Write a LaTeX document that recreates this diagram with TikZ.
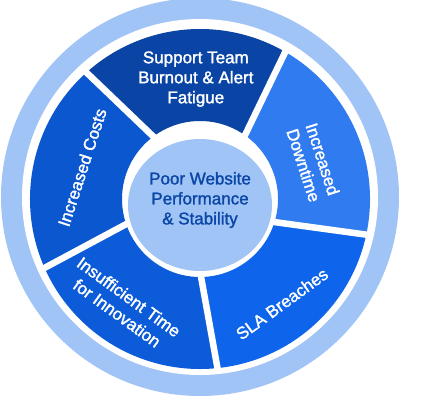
\documentclass[tikz,border=0pt]{standalone}
\usepackage{fontspec}
\setmainfont{Liberation Sans}
\newfontfamily\medfont{Liberation Sans}[FakeBold=1.6]
\definecolor{ringlight}{HTML}{A1C4F7}
\definecolor{segsupport}{HTML}{0A45A5}
\definecolor{segcosts}{HTML}{0B57D0}
\definecolor{seginnov}{HTML}{0C5CDA}
\definecolor{segsla}{HTML}{0E65EB}
\definecolor{segdown}{HTML}{2F7BEF}
\definecolor{coretext}{HTML}{0B47A6}
\tikzset{
  segtext/.style={text=white, align=center, font=\medfont\fontsize{17}{20}\selectfont},
  coretxt/.style={text=coretext, align=center, font=\medfont\fontsize{17}{20}\selectfont},
  gapline/.style={white, line width=6.5pt},
}

\begin{document}
\begin{tikzpicture}[x=1pt,y=1pt]
			\useasboundingbox (0,0) rectangle (444,400);
			\clip (0,0) rectangle (444,400);
			% outer light ring
			\fill[ringlight] (200,203) circle (199pt);
			\fill[white] (200,203) circle (178pt);
			\begin{scope}[shift={(200,201)}]
				% five segments
				\fill[segsla] (-90:78pt) arc[start angle=-90, end angle=-18, radius=78pt] -- (-12:170pt) arc[start angle=-12, end angle=-84, radius=170pt] -- cycle;
				\fill[segdown] (-18:78pt) arc[start angle=-18, end angle=54, radius=78pt] -- (60:170pt) arc[start angle=60, end angle=-12, radius=170pt] -- cycle;
				\fill[segsupport] (54:78pt) arc[start angle=54, end angle=126, radius=78pt] -- (132:170pt) arc[start angle=132, end angle=60, radius=170pt] -- cycle;
				\fill[segcosts] (126:78pt) arc[start angle=126, end angle=198, radius=78pt] -- (204:170pt) arc[start angle=204, end angle=132, radius=170pt] -- cycle;
				\fill[seginnov] (198:78pt) arc[start angle=198, end angle=270, radius=78pt] -- (276:170pt) arc[start angle=276, end angle=204, radius=170pt] -- cycle;
				% white gaps
				\foreach \a in {-90,-18,54,126,198}
					\draw[gapline] (\a:72pt) -- (\a+6:174pt);
				% labels
				\node[segtext] (support) at (92:120pt) {Support Team\\Burnout \& Alert\\Fatigue};
				\node[segtext, rotate=-72] (downtime) at (18:119pt) {Increased\\Downtime};
				\node[segtext, rotate=36] (sla) at (-52:133pt) {SLA Breaches};
				\node[segtext, rotate=-36] (innovation) at (234:131pt) {Insufficient Time\\for Innovation};
				\node[segtext, rotate=72] (costs) at (165:122pt) {Increased Costs};
				% centre
				\fill[ringlight] (0,-6) ellipse (72pt and 66pt);
				\node[coretxt] (core) at (0,-1) {Poor Website\\Performance\\\& Stability};
			\end{scope}
		\end{tikzpicture}
\end{document}
